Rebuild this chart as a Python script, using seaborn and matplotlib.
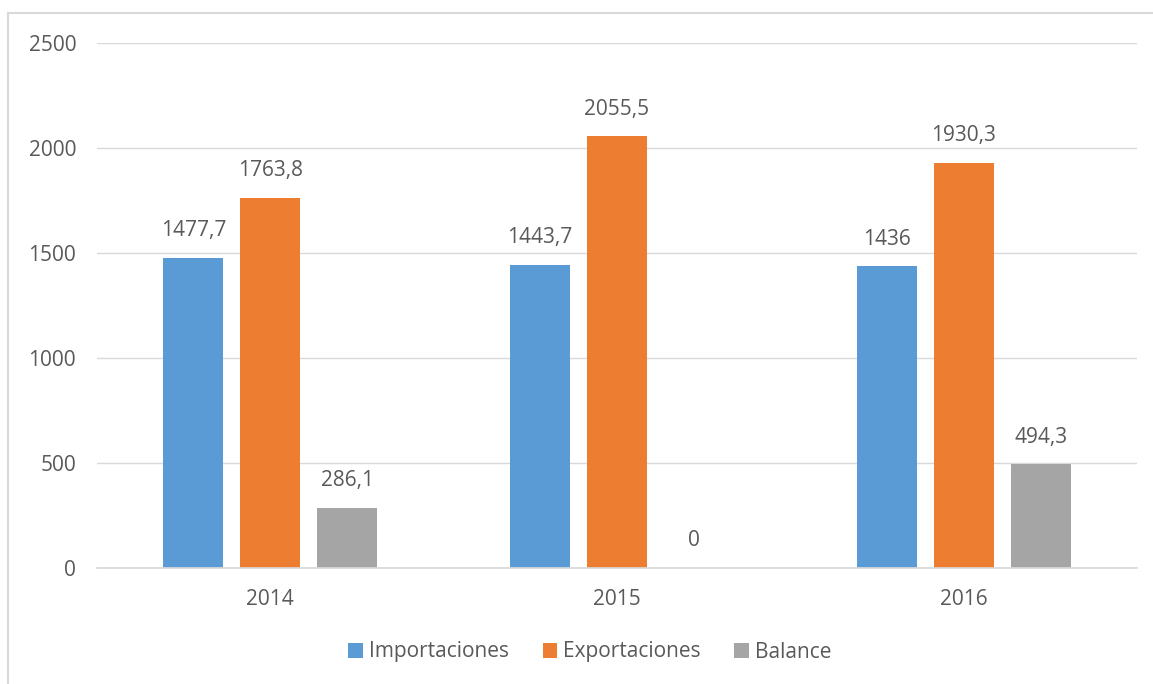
import matplotlib
matplotlib.use("Agg")
import matplotlib.pyplot as plt
from matplotlib.lines import Line2D
from matplotlib.patches import Patch
import seaborn as sns
import pandas as pd

years = ["2014", "2015", "2016"]
series = ["Importaciones", "Exportaciones", "Balance"]
importaciones = [1477.7, 1443.7, 1436]
exportaciones = [1763.8, 2055.5, 1930.3]
balance = [286.1, 0, 494.3]
yticks = [0, 500, 1000, 1500, 2000, 2500]
colors = ["#5B9BD5", "#ED7D31", "#A5A5A5"]

rows = []
for s, vals in zip(series, [importaciones, exportaciones, balance]):
    for y, v in zip(years, vals):
        rows.append({"Año": y, "Serie": s, "Valor": v})
df = pd.DataFrame(rows)

sns.set_theme(style="white")
plt.rcParams['font.family'] = ['Open Sans', 'DejaVu Sans']
text_color = "#595959"
fs = 15

fig = plt.figure(figsize=(11.53, 6.84), dpi=100)
ax = fig.add_axes([97/1153, 1-568/684, (1137-97)/1153, (568-43)/684])

sns.barplot(data=df, x="Año", y="Valor", hue="Serie", palette=colors,
            width=0.666, gap=0.22, ax=ax, legend=False, errorbar=None,
            saturation=1, linewidth=0)

ax.set_xlim(-0.5, 2.5)
ax.set_ylim(0, 2500)
ax.set_yticks(yticks)
ax.set_yticklabels([str(t) for t in yticks])
ax.yaxis.grid(True, color="#D9D9D9", linewidth=1)
ax.set_axisbelow(True)
for side in ["top", "right", "left"]:
    ax.spines[side].set_visible(False)
ax.spines["bottom"].set_color("#D9D9D9")
ax.set_xlabel("")
ax.set_ylabel("")
ax.tick_params(axis="both", length=0, labelsize=fs, labelcolor=text_color)
ax.tick_params(axis="y", pad=15)
ax.tick_params(axis="x", pad=15)

for container in ax.containers:
    labels = [f"{v:g}".replace(".", ",") for v in container.datavalues]
    ax.bar_label(container, labels=labels, padding=12, fontsize=fs, color=text_color)

handles = [Patch(facecolor=c, edgecolor="none") for c in colors]
fig.legend(handles, series, loc="center", bbox_to_anchor=(590/1153, 1-652/684),
           ncol=3, frameon=False, fontsize=fs, handlelength=0.7, handleheight=0.7,
           handletextpad=0.3, columnspacing=1.6, labelcolor=text_color)

fig.add_artist(Line2D([8/1153, 1], [1-13/684, 1-13/684], color="#D9D9D9", linewidth=1.5,
                      transform=fig.transFigure))
fig.add_artist(Line2D([8/1153, 8/1153], [0, 1-13/684], color="#D9D9D9", linewidth=1.5,
                      transform=fig.transFigure))

fig.savefig("out.png", dpi=100, facecolor="white")
